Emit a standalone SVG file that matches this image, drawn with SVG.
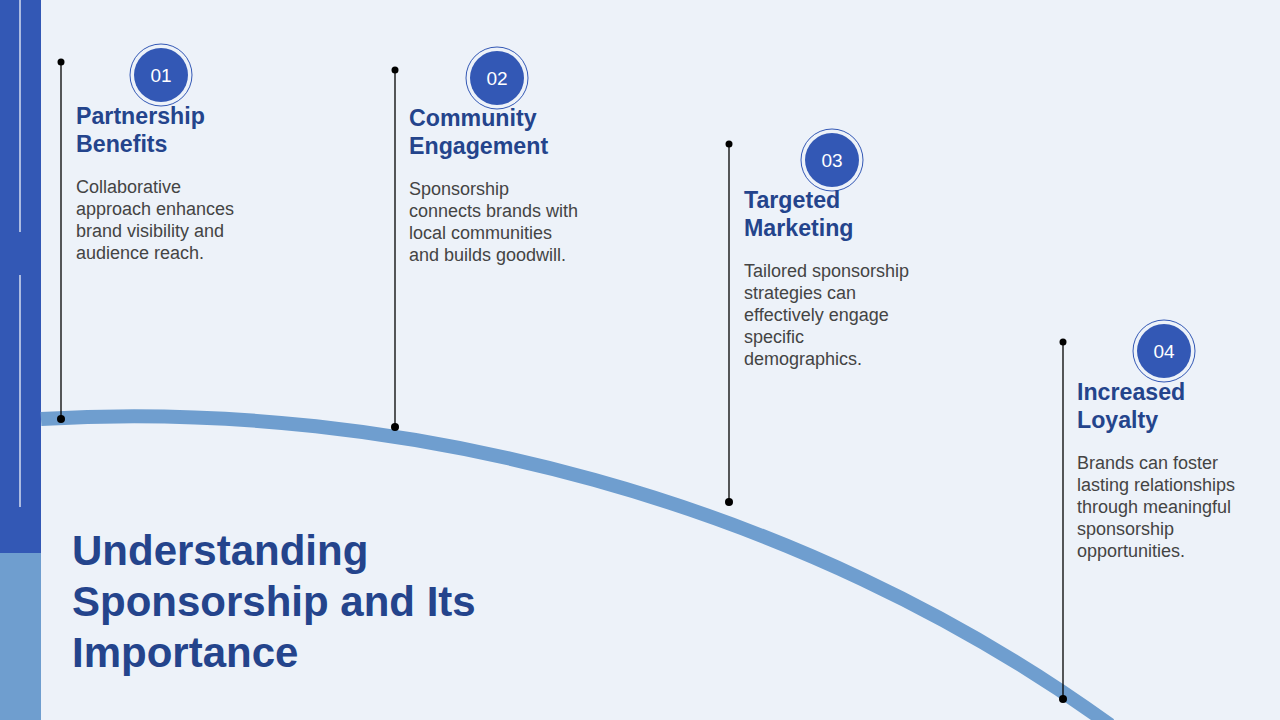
<svg xmlns="http://www.w3.org/2000/svg" width="1280" height="720" viewBox="0 0 1280 720">
<style>
.t{font-family:"Liberation Sans",Arial,sans-serif;font-weight:bold;font-size:23.2px;fill:#24448c}
.b{font-family:"Liberation Sans",Arial,sans-serif;font-size:18px;fill:#444}
.n{font-family:"Liberation Sans",Arial,sans-serif;font-size:19px;fill:#fff;text-anchor:middle}
.ring{fill:none;stroke:#3358b5;stroke-width:1}
.dot{fill:#000}
</style>
<rect width="1280" height="720" fill="#edf2f9"/>
<rect x="0" y="0" width="41" height="553" fill="#3358b5"/>
<rect x="0" y="553" width="41" height="167" fill="#6f9ecf"/>
<line x1="20" y1="0" x2="20" y2="232" stroke="#fff" stroke-width="1.2"/>
<line x1="20" y1="275" x2="20" y2="507" stroke="#fff" stroke-width="1.2"/>
<g id="connectors">
<path d="M41,419 C400,398 800,500 1110,725" fill="none" stroke="#6f9ecf" stroke-width="14"/>
<g stroke="#000" stroke-width="1.3">
<line x1="61" y1="62" x2="61" y2="419"/>
<line x1="395" y1="70" x2="395" y2="427"/>
<line x1="729" y1="144" x2="729" y2="502"/>
<line x1="1063" y1="342" x2="1063" y2="699"/>
</g>
<g class="dot">
<circle cx="61" cy="62" r="3.5"/><circle cx="61" cy="419" r="4"/>
<circle cx="395" cy="70" r="3.5"/><circle cx="395" cy="427" r="4"/>
<circle cx="729" cy="144" r="3.5"/><circle cx="729" cy="502" r="4"/>
<circle cx="1063" cy="342" r="3.5"/><circle cx="1063" cy="699" r="4"/>
</g>
</g>
<g id="node1">
<circle cx="161" cy="75" r="31" class="ring"/><circle cx="161" cy="75" r="27" fill="#3358b5"/>
<text x="161" y="82" class="n">01</text>
<text class="t"><tspan x="76" y="124">Partnership</tspan><tspan x="76" y="152">Benefits</tspan></text>
<text class="b"><tspan x="76" y="193">Collaborative</tspan><tspan x="76" y="215">approach enhances</tspan><tspan x="76" y="237">brand visibility and</tspan><tspan x="76" y="259">audience reach.</tspan></text>
</g>
<g id="node2">
<circle cx="497" cy="78" r="31" class="ring"/><circle cx="497" cy="78" r="27" fill="#3358b5"/>
<text x="497" y="85" class="n">02</text>
<text class="t"><tspan x="409" y="126">Community</tspan><tspan x="409" y="154">Engagement</tspan></text>
<text class="b"><tspan x="409" y="195">Sponsorship</tspan><tspan x="409" y="217">connects brands with</tspan><tspan x="409" y="239">local communities</tspan><tspan x="409" y="261">and builds goodwill.</tspan></text>
</g>
<g id="node3">
<circle cx="832" cy="160" r="31" class="ring"/><circle cx="832" cy="160" r="27" fill="#3358b5"/>
<text x="832" y="167" class="n">03</text>
<text class="t"><tspan x="744" y="208">Targeted</tspan><tspan x="744" y="236">Marketing</tspan></text>
<text class="b"><tspan x="744" y="277">Tailored sponsorship</tspan><tspan x="744" y="299">strategies can</tspan><tspan x="744" y="321">effectively engage</tspan><tspan x="744" y="343">specific</tspan><tspan x="744" y="365">demographics.</tspan></text>
</g>
<g id="node4">
<circle cx="1164" cy="351" r="31" class="ring"/><circle cx="1164" cy="351" r="27" fill="#3358b5"/>
<text x="1164" y="358" class="n">04</text>
<text class="t"><tspan x="1077" y="400">Increased</tspan><tspan x="1077" y="428">Loyalty</tspan></text>
<text class="b"><tspan x="1077" y="469">Brands can foster</tspan><tspan x="1077" y="491">lasting relationships</tspan><tspan x="1077" y="513">through meaningful</tspan><tspan x="1077" y="535">sponsorship</tspan><tspan x="1077" y="557">opportunities.</tspan></text>
</g>
<text font-family="Liberation Sans,Arial,sans-serif" font-weight="bold" font-size="42" fill="#24448c"><tspan x="72" y="565">Understanding</tspan><tspan x="72" y="616">Sponsorship and Its</tspan><tspan x="72" y="667">Importance</tspan></text>
</svg>
